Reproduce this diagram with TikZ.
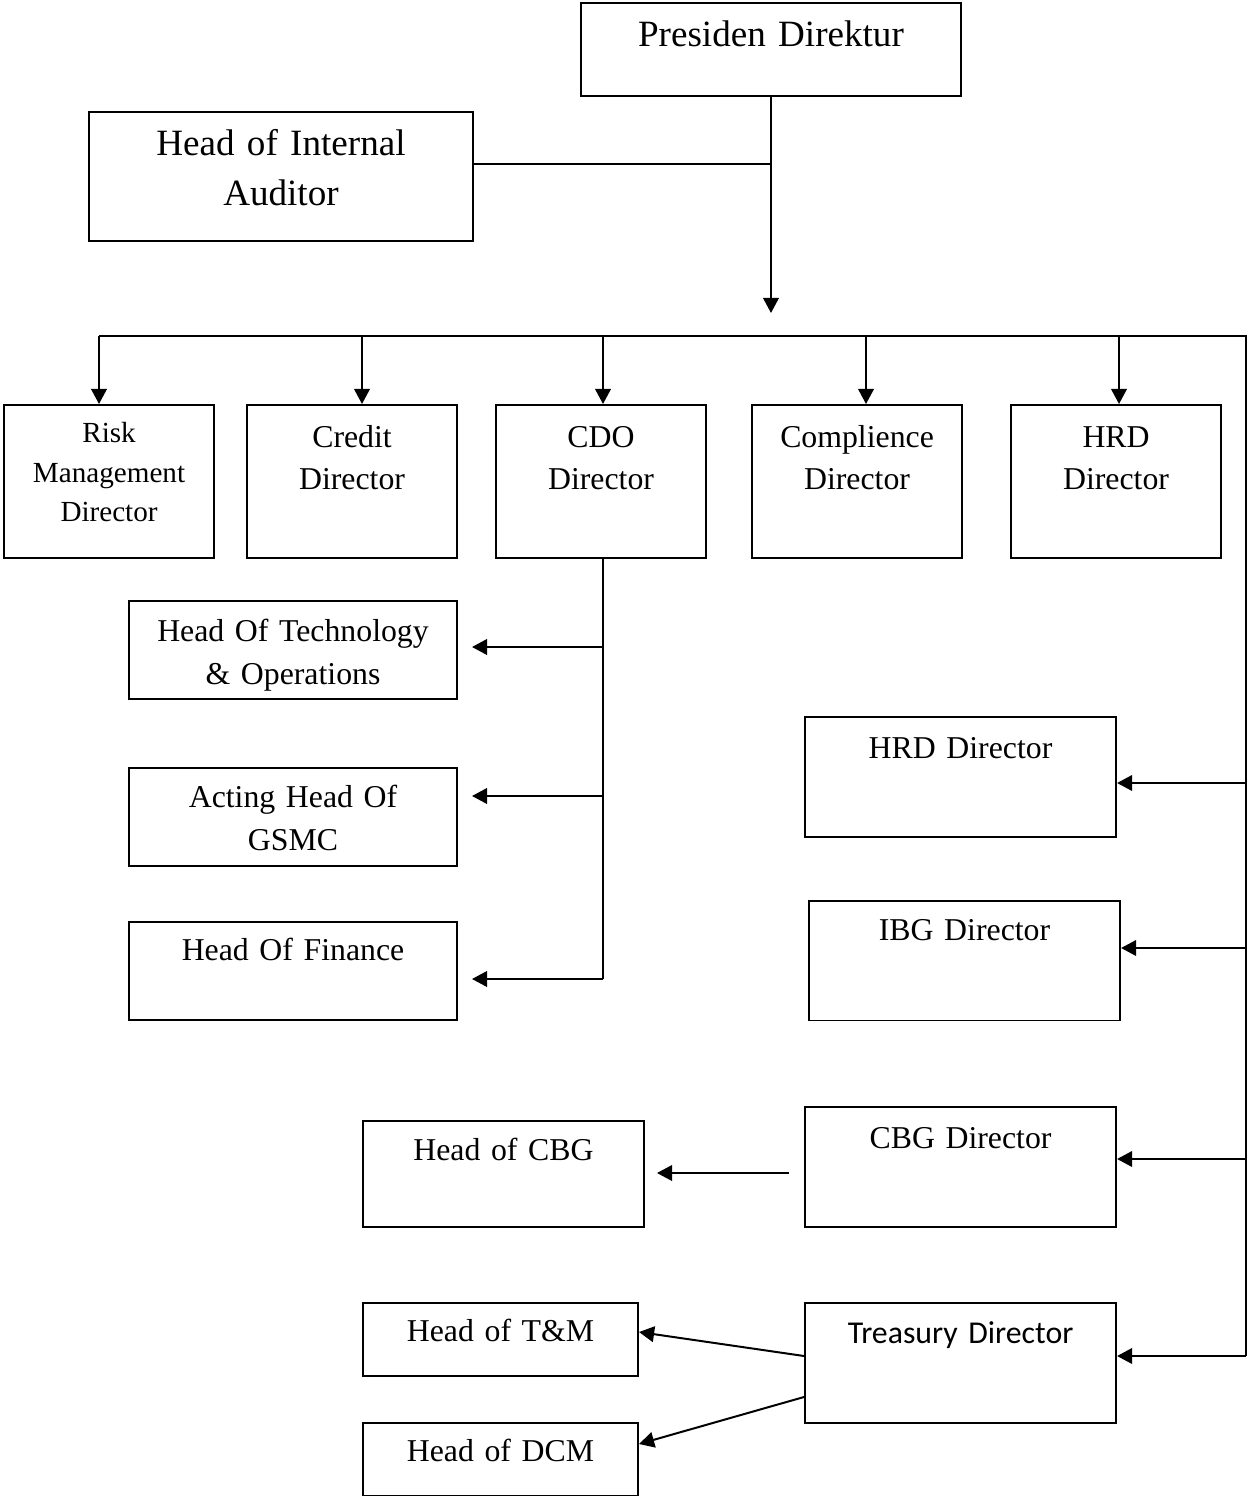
\documentclass[tikz,border=0pt]{standalone}
\usepackage{fontspec}
\setmainfont{Liberation Serif}
\newfontfamily\calibri{Carlito}
\usetikzlibrary{arrows.meta}

\tikzset{
  unit/.style={draw, line width=0.75pt, inner sep=0pt, anchor=north west, align=center},
  dirunit/.style={unit, text width=79.3pt, text height=15.9pt, text depth=41.9pt, txtmid},
  txtbig/.style={font=\fontsize{14}{18.6}\selectfont},
  txtmid/.style={font=\fontsize{12}{16.1}\selectfont},
  txtsmall/.style={font=\fontsize{11}{14.8}\selectfont},
  link/.style={line width=0.75pt},
  arrow/.style={link, -{Triangle[length=5.7pt,width=5.9pt]}}
}

\begin{document}
\begin{tikzpicture}[x=0.3774pt, y=-0.3774pt]
    \useasboundingbox (0,0) rectangle (1247,1496);

    % top
    \node[unit, txtbig, text width=143.4pt, text height=16.6pt, text depth=18.5pt] (pres) at (580,2) {Presiden Direktur};
    \node[unit, txtbig, text width=144.9pt, text height=16.6pt, text depth=32.1pt] (audit) at (88,111) {Head of Internal\\Auditor};

    \coordinate (junction) at (pres.south |- 0,164);
    \coordinate (hub) at (pres.south |- 0,313);
    \draw[link] (audit.east |- junction) -- (junction);
    \draw[arrow] (pres.south) -- (hub);

    % directors
    \node[dirunit, txtsmall, text height=14.3pt, text depth=43.4pt] (risk) at (3,404) {Risk\\Management\\Director};
    \node[dirunit] (credit) at (246,404) {Credit\\Director};
    \node[dirunit] (cdo) at (495,404) {CDO\\Director};
    \node[dirunit] (compl) at (751,404) {Complience\\Director};
    \node[dirunit] (hrd) at (1010,404) {HRD\\Director};

    % bus line
    \coordinate (busL) at (99,336);
    \coordinate (busR) at (1246,336);
    \coordinate (trunk) at (1246,1356);
    \draw[link] (busL) -- (busR) -- (trunk);
    \foreach \x/\n in {99/risk,362/credit,603/cdo,866/compl,1119/hrd}
      \draw[arrow] (\x,336) -- (\n.north -| \x,0);

    % under CDO
    \node[unit, txtmid, text width=123.8pt, text height=15.3pt, text depth=21.7pt] (tech) at (128,600) {Head Of Technology\\\& Operations};
    \node[unit, txtmid, text width=123.8pt, text height=14.9pt, text depth=22.1pt] (gsmc) at (128,767) {Acting Head Of\\GSMC};
    \node[unit, txtmid, text width=123.8pt, text height=14.7pt, text depth=22.3pt] (fin) at (128,921) {Head Of Finance};

    \draw[link] (cdo.south -| 603,0) -- (603,979);
    \foreach \y in {647,796,979}
      \draw[arrow] (603,\y) -- (472,\y);

    % right side
    \node[unit, txtmid, text width=117.4pt, text height=15.5pt, text depth=29.8pt] (hrdtwo) at (804,716) {HRD Director};
    \node[unit, txtmid, text width=117.4pt, text height=14.9pt, text depth=30.2pt] (ibg) at (808,900) {IBG Director};
    \node[unit, txtmid, text width=117.4pt, text height=15.5pt, text depth=29.6pt] (cbgdir) at (804,1106) {CBG Director};
    \node[unit, font=\calibri\fontsize{12}{16.1}\selectfont, text width=117.4pt, text height=15.1pt, text depth=30.2pt] (treas) at (804,1302) {Treasury Director};

    \foreach \y/\n in {783/hrdtwo,948/ibg,1159/cbgdir,1356/treas}
      \draw[arrow] (1246,\y) -- (\n.east |- 0,\y);

    % heads
    \node[unit, txtmid, text width=106.0pt, text height=14.9pt, text depth=25.1pt] (cbg) at (362,1120) {Head of CBG};
    \node[unit, txtmid, text width=103.8pt, text height=14.5pt, text depth=12.9pt] (tm) at (362,1302) {Head of T\&M};
    \node[unit, txtmid, text width=103.8pt, text height=14.5pt, text depth=12.9pt] (dcm) at (362,1422) {Head of DCM};

    \draw[arrow] (789,1173) -- (657,1173);
    \draw[arrow] (treas.west |- 0,1356) -- (tm.east |- 0,1332);
    \draw[arrow] (treas.west |- 0,1397) -- (dcm.east |- 0,1444);

\end{tikzpicture}
\end{document}
